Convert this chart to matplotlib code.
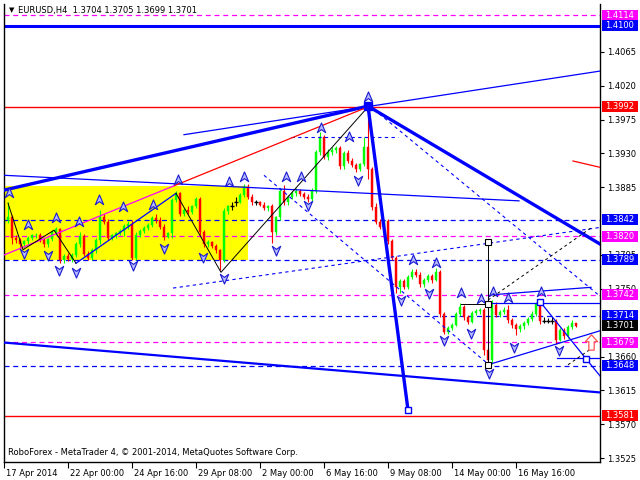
import numpy as np
import matplotlib.pyplot as plt
from matplotlib.path import Path
from matplotlib.patches import Rectangle
from matplotlib.transforms import IdentityTransform, ScaledTranslation

plt.rcParams['font.family'] = ['DejaVu Sans']

# EURUSD H4 bars
opens = [1.3836, 1.3842, 1.3846, 1.3818, 1.3815, 1.3809, 1.3813, 1.3818, 1.3821, 1.3822,
         1.3815, 1.3809, 1.3816, 1.3826, 1.3829, 1.3788, 1.3794, 1.3790, 1.3795, 1.3809,
         1.3820, 1.3796, 1.3791, 1.3801, 1.3815, 1.3845, 1.3839, 1.3818, 1.3821, 1.3824,
         1.3827, 1.3833, 1.3836, 1.3791, 1.3822, 1.3827, 1.3831, 1.3835, 1.3844, 1.3841,
         1.3832, 1.3819, 1.3824, 1.3868, 1.3877, 1.3850, 1.3855, 1.3852, 1.3860, 1.3869,
         1.3825, 1.3810, 1.3812, 1.3807, 1.3801, 1.3788, 1.3854, 1.3860, 1.3866, 1.3866,
         1.3875, 1.3886, 1.3872, 1.3865, 1.3865, 1.3862, 1.3857, 1.3860, 1.3826, 1.3845,
         1.3880, 1.3865, 1.3872, 1.3878, 1.3880, 1.3876, 1.3872, 1.3870, 1.3880, 1.3932,
         1.3952, 1.3925, 1.3932, 1.3934, 1.3937, 1.3913, 1.3930, 1.3920, 1.3915, 1.3910,
         1.3916, 1.3938, 1.3910, 1.3859, 1.3839, 1.3832, 1.3840, 1.3813, 1.3791, 1.3752,
         1.3760, 1.3753, 1.3766, 1.3773, 1.3769, 1.3756, 1.3762, 1.3767, 1.3762, 1.3772,
         1.3716, 1.3693, 1.3698, 1.3702, 1.3717, 1.3726, 1.3712, 1.3706, 1.3718, 1.3720,
         1.3722, 1.3668, 1.3655, 1.3728, 1.3715, 1.3719, 1.3722, 1.3708, 1.3702, 1.3697,
         1.3700, 1.3705, 1.3710, 1.3717, 1.3730, 1.3707, 1.3707, 1.3707, 1.3707, 1.3682,
         1.3695, 1.3687, 1.3699, 1.3704]
highs = [1.3846, 1.3865, 1.3848, 1.3822, 1.3817, 1.3815, 1.3820, 1.3823, 1.3824, 1.3824,
         1.3817, 1.3818, 1.3828, 1.3832, 1.3831, 1.3796, 1.3797, 1.3797, 1.3812, 1.3826,
         1.3823, 1.3800, 1.3804, 1.3818, 1.3855, 1.3850, 1.3843, 1.3823, 1.3826, 1.3830,
         1.3836, 1.3840, 1.3842, 1.3825, 1.3830, 1.3834, 1.3838, 1.3847, 1.3849, 1.3846,
         1.3836, 1.3826, 1.3871, 1.3880, 1.3879, 1.3858, 1.3860, 1.3862, 1.3872, 1.3872,
         1.3828, 1.3815, 1.3814, 1.3809, 1.3803, 1.3858, 1.3862, 1.3866, 1.3872, 1.3878,
         1.3890, 1.3889, 1.3876, 1.3868, 1.3867, 1.3865, 1.3862, 1.3863, 1.3847, 1.3884,
         1.3888, 1.3875, 1.3880, 1.3884, 1.3883, 1.3879, 1.3876, 1.3884, 1.3935, 1.3958,
         1.3954, 1.3936, 1.3938, 1.3940, 1.3940, 1.3933, 1.3934, 1.3924, 1.3918, 1.3918,
         1.3952, 1.3993, 1.3912, 1.3864, 1.3843, 1.3842, 1.3843, 1.3816, 1.3793, 1.3763,
         1.3763, 1.3769, 1.3777, 1.3776, 1.3772, 1.3765, 1.3770, 1.3770, 1.3778, 1.3775,
         1.3719, 1.3700, 1.3705, 1.3719, 1.3731, 1.3728, 1.3715, 1.3720, 1.3723, 1.3725,
         1.3724, 1.3672, 1.3735, 1.3732, 1.3722, 1.3726, 1.3728, 1.3711, 1.3705, 1.3703,
         1.3707, 1.3712, 1.3720, 1.3733, 1.3735, 1.3712, 1.3711, 1.3712, 1.3710, 1.3698,
         1.3698, 1.3702, 1.3708, 1.3705]
lows = [1.3830, 1.3838, 1.3809, 1.3811, 1.3805, 1.3806, 1.3810, 1.3815, 1.3817, 1.3812,
        1.3806, 1.3805, 1.3814, 1.3822, 1.3784, 1.3785, 1.3787, 1.3786, 1.3792, 1.3806,
        1.3793, 1.3788, 1.3789, 1.3797, 1.3810, 1.3836, 1.3815, 1.3815, 1.3818, 1.3821,
        1.3820, 1.3829, 1.3788, 1.3789, 1.3819, 1.3824, 1.3828, 1.3832, 1.3838, 1.3830,
        1.3815, 1.3817, 1.3818, 1.3865, 1.3847, 1.3847, 1.3849, 1.3850, 1.3857, 1.3822,
        1.3806, 1.3806, 1.3804, 1.3798, 1.3775, 1.3786, 1.3850, 1.3855, 1.3860, 1.3864,
        1.3872, 1.3870, 1.3862, 1.3862, 1.3860, 1.3855, 1.3854, 1.3811, 1.3822, 1.3842,
        1.3862, 1.3862, 1.3869, 1.3874, 1.3873, 1.3869, 1.3866, 1.3867, 1.3877, 1.3928,
        1.3922, 1.3921, 1.3928, 1.3930, 1.3910, 1.3910, 1.3917, 1.3912, 1.3906, 1.3907,
        1.3913, 1.3896, 1.3855, 1.3836, 1.3829, 1.3828, 1.3810, 1.3788, 1.3745, 1.3744,
        1.3750, 1.3750, 1.3763, 1.3766, 1.3753, 1.3753, 1.3759, 1.3758, 1.3760, 1.3712,
        1.3690, 1.3690, 1.3695, 1.3700, 1.3714, 1.3709, 1.3703, 1.3704, 1.3715, 1.3716,
        1.3662, 1.3648, 1.3650, 1.3712, 1.3712, 1.3716, 1.3705, 1.3698, 1.3688, 1.3692,
        1.3696, 1.3702, 1.3707, 1.3714, 1.3703, 1.3704, 1.3704, 1.3703, 1.3676, 1.3680,
        1.3683, 1.3684, 1.3696, 1.3699]
closes = [1.3842, 1.3846, 1.3818, 1.3815, 1.3809, 1.3813, 1.3818, 1.3821, 1.3822, 1.3815,
          1.3809, 1.3816, 1.3826, 1.3829, 1.3788, 1.3794, 1.3790, 1.3795, 1.3809, 1.3820,
          1.3796, 1.3791, 1.3801, 1.3815, 1.3845, 1.3839, 1.3818, 1.3821, 1.3824, 1.3827,
          1.3833, 1.3836, 1.3791, 1.3822, 1.3827, 1.3831, 1.3835, 1.3844, 1.3841, 1.3832,
          1.3819, 1.3824, 1.3868, 1.3877, 1.3850, 1.3855, 1.3852, 1.3860, 1.3869, 1.3825,
          1.3810, 1.3812, 1.3807, 1.3801, 1.3788, 1.3854, 1.3860, 1.3860, 1.3866, 1.3875,
          1.3886, 1.3872, 1.3865, 1.3865, 1.3862, 1.3857, 1.3860, 1.3826, 1.3845, 1.3880,
          1.3865, 1.3872, 1.3878, 1.3880, 1.3876, 1.3872, 1.3870, 1.3880, 1.3932, 1.3952,
          1.3925, 1.3932, 1.3934, 1.3937, 1.3913, 1.3930, 1.3920, 1.3915, 1.3910, 1.3916,
          1.3938, 1.3910, 1.3859, 1.3839, 1.3832, 1.3840, 1.3813, 1.3791, 1.3752, 1.3760,
          1.3753, 1.3766, 1.3773, 1.3769, 1.3756, 1.3762, 1.3767, 1.3762, 1.3772, 1.3716,
          1.3693, 1.3698, 1.3702, 1.3717, 1.3726, 1.3712, 1.3706, 1.3718, 1.3720, 1.3722,
          1.3668, 1.3655, 1.3728, 1.3715, 1.3719, 1.3722, 1.3708, 1.3702, 1.3697, 1.3700,
          1.3705, 1.3710, 1.3717, 1.3730, 1.3707, 1.3707, 1.3707, 1.3707, 1.3682, 1.3695,
          1.3687, 1.3699, 1.3704, 1.3701]

x_tick_pos = [0, 16, 32, 48, 64, 80, 96, 112, 128]
x_tick_labels = ['17 Apr 2014', '22 Apr 00:00', '24 Apr 16:00', '29 Apr 08:00', '2 May 00:00',
                 '6 May 16:00', '9 May 08:00', '14 May 00:00', '16 May 16:00']
# grid prices shown on the scale (the others sit under price tags)
y_ticks = [1.3525, 1.3570, 1.3615, 1.3660, 1.3750, 1.3795,
           1.3885, 1.3930, 1.3975, 1.4020, 1.4065]

# horizontal levels with their price tags
levels = [1.4114, 1.4100, 1.3992, 1.3842, 1.3820, 1.3789, 1.3742, 1.3714, 1.3679, 1.3648, 1.3581]
level_colors = ['#ff00ff', '#0000ff', '#ff0000', '#0000ff', '#ff00ff', '#0000ff',
                '#ff00ff', '#0000ff', '#ff00ff', '#0000ff', '#ff0000']
level_styles = ['dash', 'thick', 'solid', 'dash', 'dash', 'dash', 'dash', 'dash', 'dash', 'dash', 'solid']
last_price = 1.3701

# yellow range box: x0, x1, low, high
box = (0, 61, 1.3788, 1.3887)

# trend lines (bar index, price)
thick_lines = [[(-1, 1.3880), (91, 1.3993)],
               [(91, 1.3993), (101, 1.3589)],
               [(91, 1.3993), (149.5, 1.3808)]]
channel_line = [(-1, 1.3679), (149.5, 1.3612)]
thin_blue = [[(0, 1.3901), (128.75, 1.3867)],
             [(121, 1.3731), (149.5, 1.3731)],
             [(121, 1.3649), (149.5, 1.3695)],
             [(134, 1.3733), (145.5, 1.3657), (149.5, 1.3631)],
             [(138.25, 1.3658), (149.5, 1.3658)],
             [(121.75, 1.3742), (146.75, 1.3752)],
             [(18, 1.3784), (43, 1.3877)],
             [(45, 1.3955), (149.5, 1.4040)]]
blue_dashed = [[(42.25, 1.3751), (149.5, 1.3832)],
               [(91.25, 1.3994), (149.5, 1.3738)],
               [(65, 1.3901), (121.25, 1.3649)],
               [(71.75, 1.3952), (98.5, 1.3952)]]
red_lines = [[(42.5, 1.3887), (91, 1.3992)],
             [(142.25, 1.3920), (149.5, 1.3911)]]
magenta_lines = [[(0, 1.3795), (42.5, 1.3887)]]
black_lines = [[(1, 1.3864), (4.75, 1.3802), (12.5, 1.3828), (18, 1.3784)],
               [(43, 1.3877), (54.25, 1.3772), (91, 1.3992)],
               [(114.25, 1.3730), (121, 1.3730)],
               [(121, 1.3812), (121, 1.3649)]]
black_dashed = [[(121, 1.3735), (146.75, 1.3831)],
                [(141, 1.3649), (147.5, 1.3673)]]

# fractal arrows
up_x = [1.25, 6, 13, 18.75, 23.75, 29.75, 37.25, 43.5, 56.25, 60, 70.5, 74.25, 79.25, 86.25,
        91, 102.25, 108, 114.25, 119.25, 122.25, 126, 134.25]
up_y = [1.3877, 1.3835, 1.3844, 1.3839, 1.3868, 1.3859, 1.3861, 1.3895, 1.3892, 1.3899,
        1.3899, 1.3899, 1.3964, 1.3952, 1.4005, 1.3788, 1.3784, 1.3744, 1.3736, 1.3746,
        1.3738, 1.3746]
down_x = [5, 11, 13.75, 18, 32.25, 40, 49.75, 55, 68, 76, 88.5, 99.25, 106.25, 110, 116.75,
          121.25, 127.5, 138.75]
down_y = [1.3798, 1.3795, 1.3775, 1.3772, 1.3782, 1.3804, 1.3792, 1.3764, 1.3801, 1.3861,
          1.3895, 1.3735, 1.3744, 1.3682, 1.3691, 1.3638, 1.3673, 1.3669]

o = np.array(opens)
h = np.array(highs)
l = np.array(lows)
c = np.array(closes)
x = np.arange(len(c))
colors = np.where(c > o, '#00ff00', np.where(c < o, '#ff0000', '#000000'))

fig = plt.figure(figsize=(6.4, 4.8), dpi=100)
ax = fig.add_axes([4 / 640, 18 / 480, 596 / 640, 458 / 480])
ax.set_xlim(0, 149)
ax.set_ylim(1.35197, 1.41288)

ax.add_patch(Rectangle((box[0], box[2]), box[1] - box[0], box[3] - box[2],
                       fc='#ffff00', ec='none', zorder=0.5))

for p, col, st in zip(levels, level_colors, level_styles):
    if st == 'dash':
        ax.axhline(p, color=col, lw=0.9, ls=(0, (4, 3)), zorder=1)
    elif st == 'thick':
        ax.axhline(p, color=col, lw=2.2, zorder=1)
    else:
        ax.axhline(p, color=col, lw=1.0, zorder=1)

# candles
ax.vlines(x, l, h, colors=colors, lw=0.8, zorder=2)
body_lo = np.minimum(o, c)
body_h = np.abs(c - o)
ax.bar(x, body_h, bottom=body_lo, width=0.62, color=colors, edgecolor=colors, lw=0.3,
       zorder=2)
doji = c == o
ax.hlines(c[doji], x[doji] - 0.4, x[doji] + 0.4, colors='#000000', lw=1.0, zorder=2)


def draw(seg_list, **kw):
    for seg in seg_list:
        xs, ys = zip(*seg)
        ax.plot(xs, ys, **kw)


draw(thick_lines, color='#0000ff', lw=2.4, zorder=3, solid_capstyle='butt')
draw([channel_line], color='#0000ff', lw=1.6, zorder=3)
draw(thin_blue, color='#0000ff', lw=0.9, zorder=3)
draw(blue_dashed, color='#0000ff', lw=0.8, ls=(0, (3, 3)), zorder=3)
draw(red_lines, color='#ff0000', lw=0.9, zorder=3)
draw(magenta_lines, color='#ff00ff', lw=0.9, zorder=3)
draw(black_lines, color='#000000', lw=0.7, zorder=3)
draw(black_dashed, color='#000000', lw=0.7, ls=(0, (3, 3)), zorder=3)

up_arrow = Path([(0, 1), (0.75, -0.75), (0, -0.2), (-0.75, -0.75), (0, 1)],
                [Path.MOVETO, Path.LINETO, Path.LINETO, Path.LINETO, Path.CLOSEPOLY])
down_arrow = Path([(0, -1), (0.75, 0.75), (0, 0.2), (-0.75, 0.75), (0, -1)],
                  [Path.MOVETO, Path.LINETO, Path.LINETO, Path.LINETO, Path.CLOSEPOLY])
ax.plot(up_x, up_y, ls='none', marker=up_arrow, ms=8, mfc='#b8bcff', mec='#1a1ad0',
        mew=0.8, zorder=4)
ax.plot(down_x, down_y, ls='none', marker=down_arrow, ms=8, mfc='#b8bcff', mec='#1a1ad0',
        mew=0.8, zorder=4)

buy_arrow = Path([(0, 1), (0.8, 0.1), (0.35, 0.1), (0.35, -1), (-0.35, -1), (-0.35, 0.1),
                  (-0.8, 0.1), (0, 1)],
                 [Path.MOVETO] + [Path.LINETO] * 6 + [Path.CLOSEPOLY])
ax.plot([146.75], [1.3679], ls='none', marker=buy_arrow, ms=11, mfc='#ffffff',
        mec='#ff5050', mew=0.9, zorder=4)

ax.plot([91], [1.3993], ls='none', marker='s', ms=6, color='#0000ff', zorder=4)
ax.plot([121, 121, 121], [1.3812, 1.3730, 1.3649], ls='none', marker='s', ms=4.5,
        mfc='#ffffff', mec='#000000', mew=0.8, zorder=4)
ax.plot([134, 145.5, 101], [1.3733, 1.3657, 1.3589], ls='none', marker='s', ms=4.5,
        mfc='#ffffff', mec='#0000ff', mew=1.0, zorder=4)

# axes styling
for side in ['left', 'right', 'bottom']:
    ax.spines[side].set_color('#000000')
    ax.spines[side].set_linewidth(1.0)
ax.spines['top'].set_visible(False)
ax.yaxis.tick_right()
ax.set_yticks(y_ticks)
ax.set_yticklabels([f'{v:.4f}' for v in y_ticks])
ax.tick_params(axis='y', direction='out', length=3, width=0.8, pad=2, labelsize=6)
ax.set_xticks(x_tick_pos)
ax.set_xticklabels(x_tick_labels)
ax.tick_params(axis='x', direction='out', length=4, width=0.8, pad=1, labelsize=6)
for lab in ax.get_xticklabels():
    lab.set_ha('left')
    lab.set_transform(lab.get_transform() + ScaledTranslation(2 / 100, 0, fig.dpi_scale_trans))

# price tags on the scale, fixed-size boxes like the terminal draws them
tags = list(zip(levels, level_colors)) + [(last_price, '#000000')]
for p, col in tags:
    y_px = ax.transData.transform((0, p))[1]
    fig.add_artist(Rectangle((602, y_px - 5.5), 36, 11, transform=IdentityTransform(),
                             fc=col, ec='none', zorder=5))
    fig.text(620 / 640, y_px / 480, f'{p:.4f}', fontsize=6, color='#ffffff',
             ha='center', va='center', zorder=6)

fig.text(9 / 640, 1 - 10 / 480, '\u25bc', fontsize=5, va='center', ha='left')
fig.text(18 / 640, 1 - 10 / 480, 'EURUSD,H4  1.3704 1.3705 1.3699 1.3701', fontsize=6,
         va='center', ha='left')
ax.text(0.006, 0.012, 'RoboForex - MetaTrader 4, \u00a9 2001-2014, MetaQuotes Software Corp.',
        transform=ax.transAxes, fontsize=6, va='bottom', ha='left', zorder=10)

fig.savefig('out.png', dpi=100)
